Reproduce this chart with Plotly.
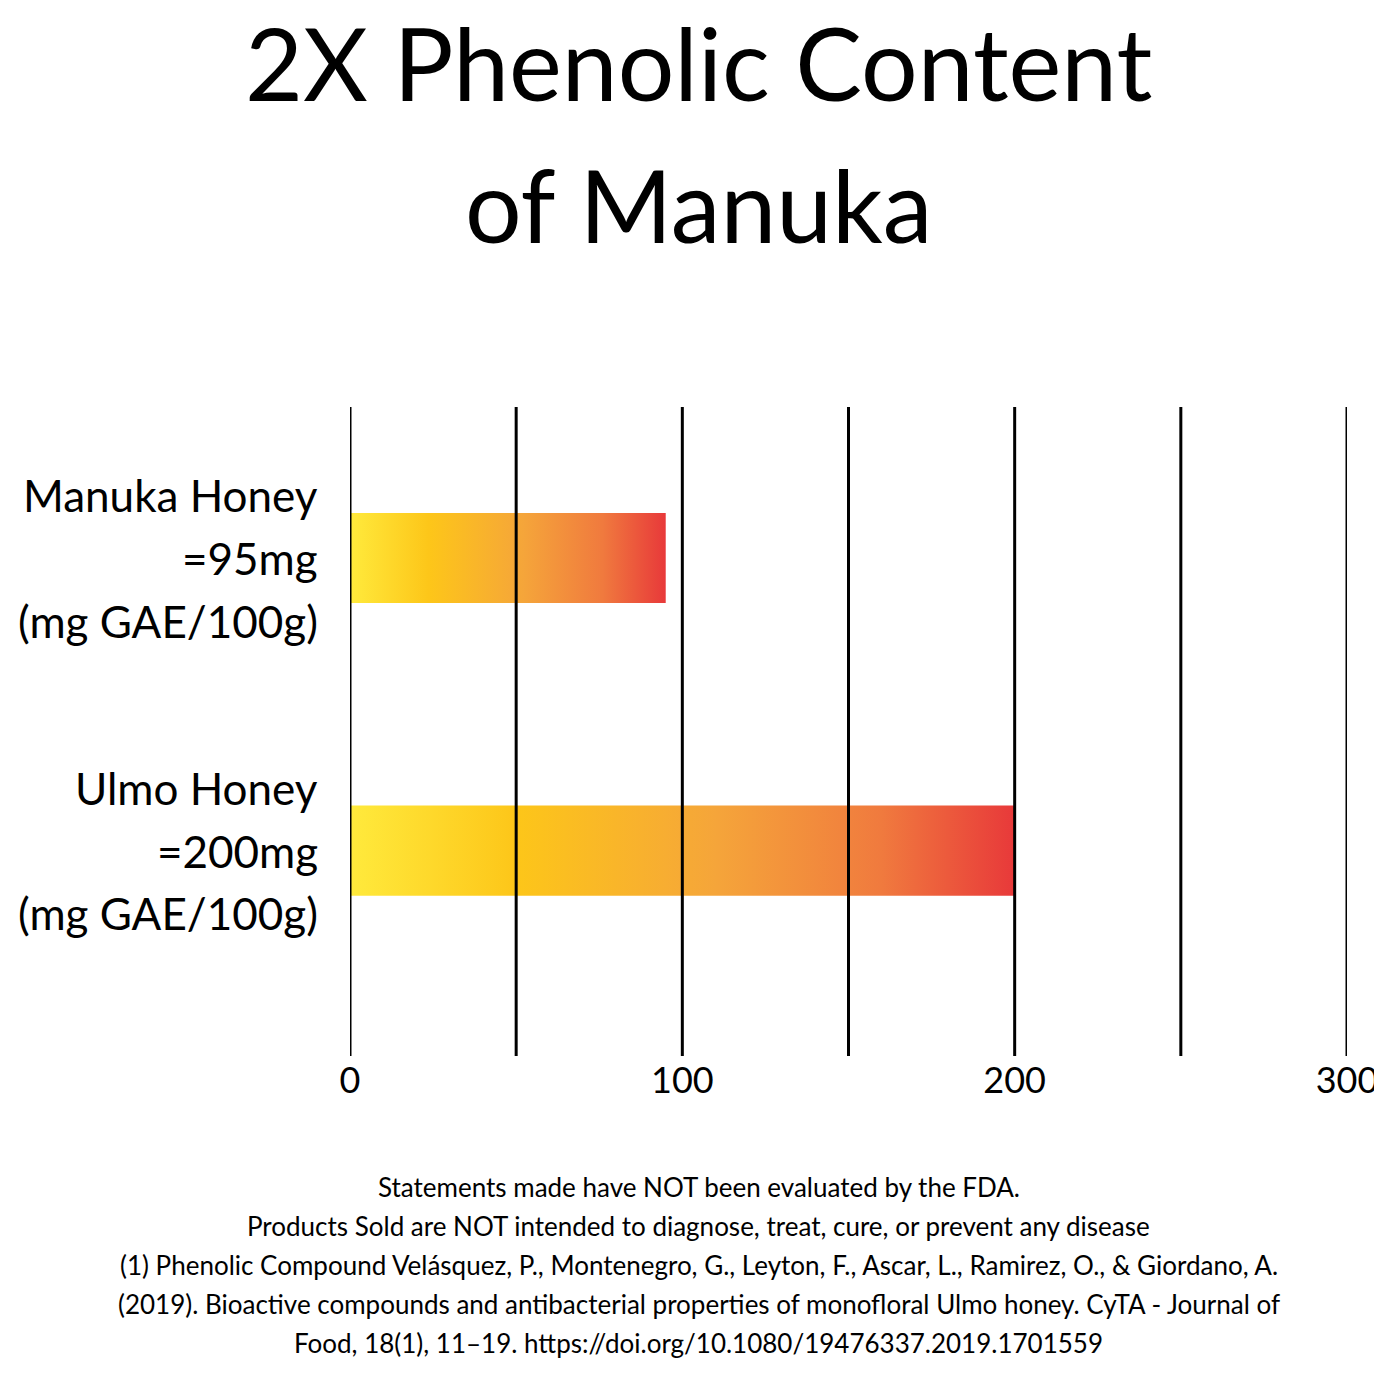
import plotly.graph_objects as go

categories = ["Ulmo Honey", "Manuka Honey"]
values = [200, 95]
value_labels = ["=200mg", "=95mg"]
unit_label = "(mg GAE/100g)"
tick_vals = [0, 100, 200, 300]
grid_vals = [0, 50, 100, 150, 200, 250, 300]
title_lines = ["2X Phenolic Content", "of Manuka"]
footer_lines = [
    "Statements made have NOT been evaluated by the FDA.",
    "Products Sold are NOT intended to diagnose, treat, cure, or prevent any disease",
    "(1) Phenolic Compound Velásquez, P., Montenegro, G., Leyton, F., Ascar, L., Ramirez, O., & Giordano, A.",
    "(2019). Bioactive compounds and antibacterial properties of monofloral Ulmo honey. CyTA - Journal of",
    "Food, 18(1), 11–19. https://doi.org/10.1080/19476337.2019.1701559",
]
FONT = "Lato"
half = 0.154
scale = [[0, "#FFEA3C"], [0.25, "#FDC619"], [0.55, "#F5A53A"], [0.8, "#F07A3E"], [1, "#E8393A"]]

fig = go.Figure()
for i, (c, v) in enumerate(zip(categories, values)):
    fig.add_trace(go.Scatter(
        x=[0, v, v, 0, 0], y=[i - half, i - half, i + half, i + half, i - half],
        mode="lines", line=dict(width=0), fill="toself",
        fillgradient=dict(type="horizontal", colorscale=scale),
        hoverinfo="skip", showlegend=False))

shapes = [dict(type="line", xref="x", yref="paper", x0=g, x1=g, y0=0, y1=1,
               line=dict(color="black", width=3), layer="above") for g in grid_vals]

ann = []
for j, t in enumerate(title_lines):
    ann.append(dict(text=t, xref="paper", yref="paper", x=0.35, y=1 + (407 - 5 - j * 140) / 641,
                    showarrow=False, font=dict(size=100, family=FONT, color="black")))
for i, (c, vl) in enumerate(zip(categories, value_labels)):
    for k, t in enumerate([c, vl, unit_label]):
        ann.append(dict(text=t, xref="paper", yref="y", x=-0.03, xanchor="right",
                        y=i + (62 - k * 62) / 289, showarrow=False,
                        font=dict(size=44, family=FONT, color="black")))
for k, t in enumerate(footer_lines):
    ann.append(dict(text=t, xref="paper", yref="paper", x=0.35, y=(1048 - 1195 - k * 38.5) / 641,
                    showarrow=False, font=dict(size=26, family=FONT, color="black")))

fig.update_layout(
    width=1382, height=1382, margin=dict(l=342, r=21, t=399, b=334),
    paper_bgcolor="white", plot_bgcolor="white", shapes=shapes, annotations=ann,
    xaxis=dict(range=[0, 300], tickvals=tick_vals, showgrid=False, zeroline=False,
               showline=False, ticks="", ticklabeloverflow="allow",
               tickfont=dict(size=36, family=FONT, color="black")),
    yaxis=dict(range=[-0.702, 1.516], showticklabels=False, showgrid=False, zeroline=False),
)
fig.write_html("out.html")
